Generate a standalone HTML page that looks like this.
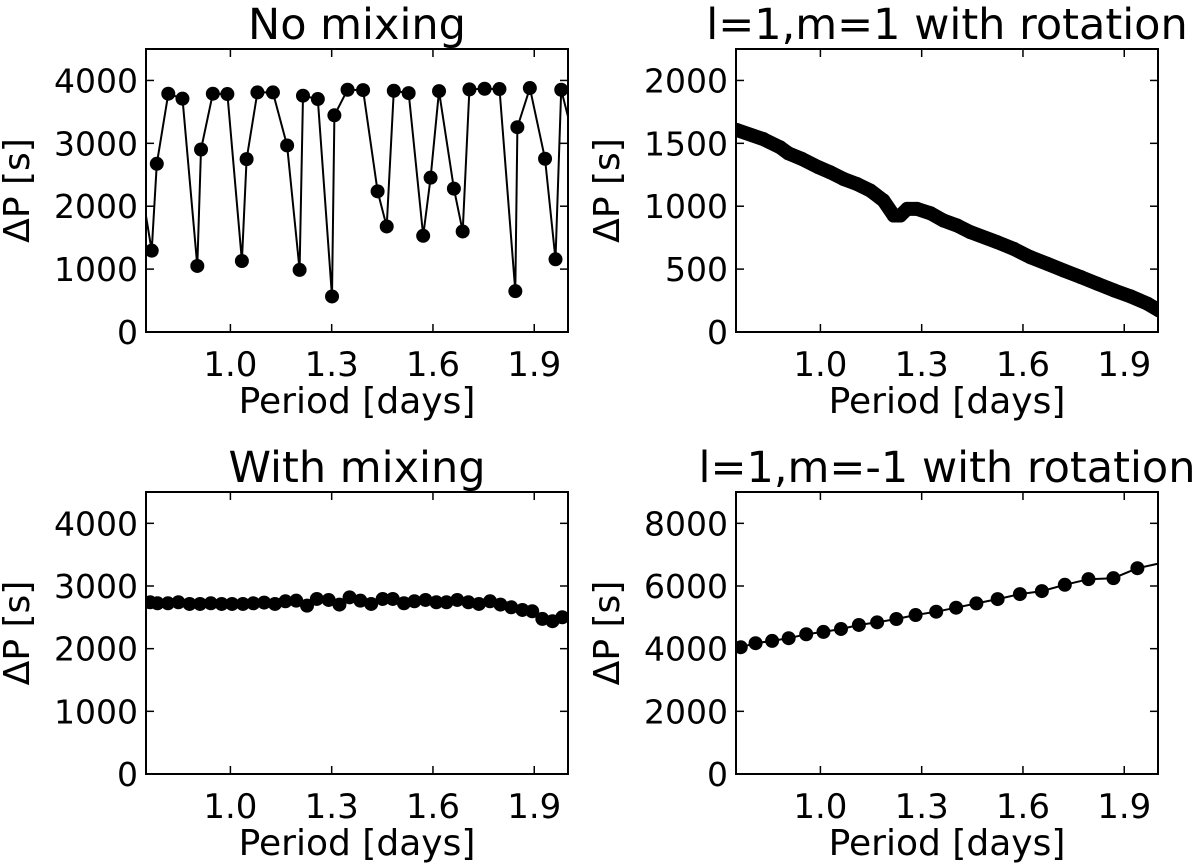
<!DOCTYPE html>
<html><head><meta charset="utf-8"><style>
html,body{margin:0;padding:0;background:#fff}
svg{display:block;font-family:"DejaVu Sans","Liberation Sans",sans-serif}
</style></head><body>
<svg id="fig" width="1200" height="867" viewBox="0 0 1200 867" xmlns="http://www.w3.org/2000/svg"></svg>
<script>
// Panel A: No mixing
const pA = [0.73,0.767,0.782,0.816,0.858,0.902,0.913,0.948,0.991,1.034,1.048,1.080,1.126,1.168,1.205,1.215,1.259,1.301,1.308,1.347,1.393,1.436,1.463,1.484,1.528,1.571,1.593,1.618,1.662,1.688,1.708,1.753,1.797,1.844,1.850,1.887,1.932,1.963,1.980,2.02];
const vA = [2500,1293,2675,3789,3710,1050,2902,3789,3784,1129,2749,3810,3810,2966,987,3757,3704,565,3446,3852,3847,2237,1678,3836,3799,1530,2454,3831,2280,1599,3858,3868,3863,649,3256,3879,2755,1156,3852,3000];
// Panel B: l=1,m=1 with rotation
const pB = [0.752,0.831,0.881,0.905,0.945,0.994,1.029,1.068,1.108,1.148,1.187,1.217,1.237,1.257,1.286,1.326,1.365,1.405,1.444,1.524,1.573,1.622,1.672,1.721,1.771,1.820,1.870,1.919,1.969,2.003];
const vB = [1606,1534,1468,1421,1376,1310,1270,1217,1177,1124,1045,926,926,979,979,944,886,847,794,714,661,595,542,489,437,384,331,283,225,172];
// Panel C: With mixing
const pC = [0.762,0.784,0.815,0.846,0.879,0.910,0.942,0.974,1.005,1.037,1.068,1.100,1.132,1.163,1.195,1.227,1.256,1.291,1.323,1.353,1.385,1.417,1.451,1.481,1.514,1.545,1.578,1.610,1.640,1.672,1.705,1.736,1.769,1.800,1.832,1.865,1.894,1.924,1.954,1.983];
const vC = [2740,2724,2724,2740,2713,2713,2724,2713,2713,2713,2724,2735,2713,2756,2766,2687,2793,2777,2703,2819,2766,2713,2793,2793,2724,2756,2777,2740,2740,2777,2740,2713,2756,2703,2660,2618,2597,2475,2438,2501];
// Panel D: l=1,m=-1 with rotation
const pD = [0.764,0.808,0.857,0.906,0.958,1.009,1.061,1.114,1.168,1.225,1.282,1.343,1.402,1.462,1.525,1.591,1.656,1.724,1.794,1.868,1.939,2.02];
const vD = [4047,4174,4248,4333,4460,4534,4629,4756,4841,4947,5074,5180,5307,5445,5583,5742,5837,6038,6218,6250,6568,6760];
const xTicks = [1.0,1.3,1.6,1.9];
const xTickLabels = ["1.0","1.3","1.6","1.9"];
const yTicksA = [0,1000,2000,3000,4000];
const yTicksB = [0,500,1000,1500,2000];
const yTicksD = [0,2000,4000,6000,8000];

const NS="http://www.w3.org/2000/svg";
const svg=document.getElementById('fig');
function mk(tag,attrs,parent){const e=document.createElementNS(NS,tag);for(const k in attrs)e.setAttribute(k,attrs[k]);(parent||svg).appendChild(e);return e;}

function panel(id,box,ymax,yTicks,title,px,vals,r,lw,mName){
  const [L,T,R,B]=box;
  const g=mk('g',{});
  
  
  const sx=p=>L+(p-0.75)/(2.0-0.75)*(R-L);
  const sy=v=>B-v/ymax*(B-T);
  const cp=mk('clipPath',{id:'clip-'+id},g);
  mk('rect',{x:L,y:T,width:R-L,height:B-T},cp);
  const dg=mk('g',{'clip-path':'url(#clip-'+id+')'},g);
  
  
  const d=px.map((p,i)=>(i?'L':'M')+sx(p).toFixed(1)+','+sy(vals[i]).toFixed(1)).join(' ');
  const ln=mk('path',{d:d,fill:'none',stroke:'#000','stroke-width':lw,'stroke-linejoin':'round','stroke-linecap':'round'},dg);
  
  
  px.forEach((p,i)=>{
    const c=mk('circle',{cx:sx(p),cy:sy(vals[i]),r:r,fill:'#000'},dg);
    
    
  });
  const fr=mk('rect',{x:L,y:T,width:R-L,height:B-T,fill:'none',stroke:'#000','stroke-width':2},g);
  
  
  xTicks.forEach((t,i)=>{
    const x=sx(t);
    mk('line',{x1:x,y1:B,x2:x,y2:B-8,stroke:'#000','stroke-width':1.5},g);
    mk('line',{x1:x,y1:T,x2:x,y2:T+8,stroke:'#000','stroke-width':1.5},g);
    const tx=mk('text',{x:x,y:B+44,'font-size':34,'text-anchor':'middle'},g);
    tx.textContent=xTickLabels[i];
    
    
  });
  yTicks.forEach(t=>{
    const y=sy(t);
    mk('line',{x1:L,y1:y,x2:L+8,y2:y,stroke:'#000','stroke-width':1.5},g);
    mk('line',{x1:R,y1:y,x2:R-8,y2:y,stroke:'#000','stroke-width':1.5},g);
    const tx=mk('text',{x:L-8,y:y+12,'font-size':33,'text-anchor':'end'},g);
    tx.textContent=String(t);
    
    
  });
  const tt=mk('text',{x:(L+R)/2,y:T-10,'font-size':43,'text-anchor':'middle'},g);
  tt.textContent=title;
  
  
  const xl=mk('text',{x:(L+R)/2,y:B+81,'font-size':36,'text-anchor':'middle'},g);
  xl.textContent='Period [days]';
  
  
  const cy=(T+B)/2;
  const yx=L-117;
  const yl=mk('text',{x:yx,y:cy,'font-size':36,'text-anchor':'middle',transform:'rotate(-90 '+yx+' '+cy+')'},g);
  yl.textContent='\u0394P [s]';
  
  
}
panel('no-mixing',[146,49,568,332],4500,yTicksA,'No mixing',pA,vA,7,2,'point');
panel('m-plus-1',[736,49,1158,332],2250,yTicksB,'l=1,m=1 with rotation',pB,vB,7,14,'point');
panel('with-mixing',[146,492,568,774],4500,yTicksA,'With mixing',pC,vC,7,2,'point');
panel('m-minus-1',[736,492,1158,774],9000,yTicksD,'l=1,m=-1 with rotation',pD,vD,7,2,'point');
</script>
</body></html>
